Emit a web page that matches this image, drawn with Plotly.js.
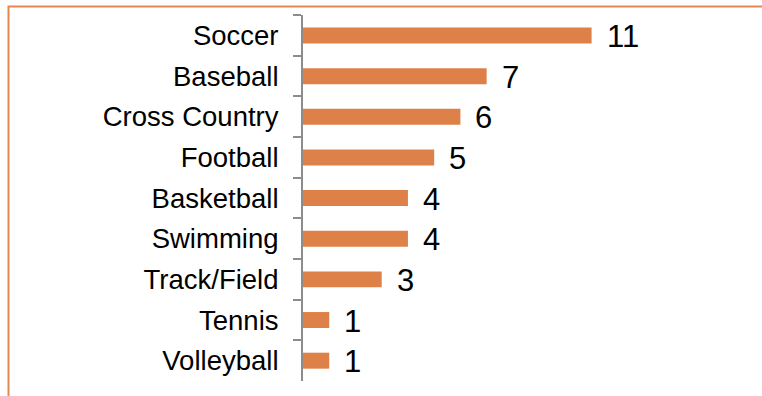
<!DOCTYPE html>
<html>
<head>
<meta charset="utf-8">
<script src="https://cdn.plot.ly/plotly-3.0.1.min.js"></script>
<style>
  html, body { margin: 0; padding: 0; background: #ffffff; }
  #chart { width: 762px; height: 396px; }
</style>
</head>
<body>
<div id="chart"></div>
<script>
// Number of athletes per sport
const sports = ["Soccer", "Baseball", "Cross Country", "Football", "Basketball",
                "Swimming", "Track/Field", "Tennis", "Volleyball"];
const counts = [11, 7, 6, 5, 4, 4, 3, 1, 1];

const W = 762, H = 396;
const M = { l: 303, r: 13, t: 15, b: 15 };
const plotW = W - M.l - M.r, plotH = H - M.t - M.b;

// pixel -> paper helpers for the outer frame
const px = x => (x - M.l) / plotW;
const py = y => (H - M.b - y) / plotH;

const barColor = "#DE8149";
const frameColor = "#E08A50";
const axisGray = "#8C8C8C";
const FAMILY = "Liberation Sans, Arial, sans-serif";

const trace = {
  type: "bar",
  orientation: "h",
  x: counts,
  y: sports,
  marker: { color: barColor },
  hoverinfo: "x+y"
};

// value labels placed just past the end of each bar
const annotations = sports.map((s, i) => ({
  x: counts[i],
  y: s,
  xref: "x",
  yref: "y",
  text: String(counts[i]),
  showarrow: false,
  xanchor: "left",
  yanchor: "middle",
  xshift: 13,
  yshift: -1,
  font: { family: FAMILY, size: 31, color: "#000000" }
}));

const layout = {
  width: W,
  height: H,
  margin: M,
  paper_bgcolor: "#ffffff",
  plot_bgcolor: "#ffffff",
  font: { family: FAMILY, size: 27, color: "#000000" },
  showlegend: false,
  bargap: 0.607,
  xaxis: {
    range: [0, 17],
    visible: false,
    fixedrange: true
  },
  yaxis: {
    type: "category",
    autorange: "reversed",
    showline: true,
    linecolor: axisGray,
    linewidth: 2,
    ticks: "outside",
    tickson: "boundaries",
    ticklen: 8,
    tickwidth: 1.5,
    tickcolor: axisGray,
    ticklabelstandoff: 17,
    showgrid: false,
    zeroline: false,
    tickfont: { family: FAMILY, size: 27.5, color: "#000000" },
    fixedrange: true
  },
  annotations: annotations,
  shapes: [
    {
      type: "path",
      xref: "paper",
      yref: "paper",
      path: `M ${px(8.5)} ${py(H + 5)} L ${px(8.5)} ${py(6.5)} L ${px(W + 5)} ${py(6.5)}`,
      line: { color: frameColor, width: 2 },
      layer: "above"
    }
  ]
};

Plotly.newPlot("chart", [trace], layout, { displayModeBar: false });
</script>
</body>
</html>
